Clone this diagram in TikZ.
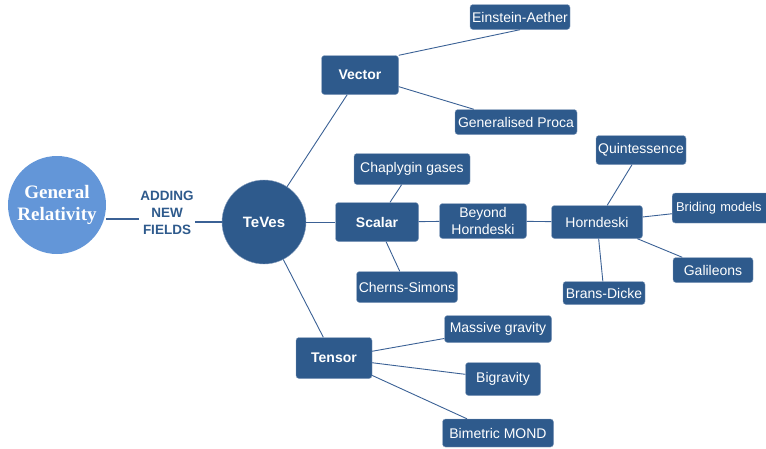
\documentclass[tikz,border=0pt]{standalone}
\usepackage{fontspec}
\setmainfont{Liberation Sans}
\newfontfamily\grfont{Liberation Serif}
\definecolor{boxblue}{HTML}{2E5A8C}
\definecolor{edgeblue}{HTML}{3B6195}
\definecolor{grblue}{HTML}{6396D8}
\tikzset{
  leaf/.style={draw=edgeblue!60, fill=boxblue, rounded corners=3pt, text=white,
    font=\fontsize{14}{16}\selectfont, inner sep=1pt, align=center,
    minimum height=27pt},
  branch/.style={leaf, font=\bfseries\fontsize{14}{16}\selectfont,
    minimum width=77pt, minimum height=39pt},
  link/.style={draw=edgeblue, line width=0.9pt}
}
\begin{document}
\begin{tikzpicture}[x=1pt, y=-1pt]
  \clip (0,0) rectangle (766,448);
  \useasboundingbox (0,0) rectangle (766,448);
  % centre of the map
  \node[circle, fill=grblue, minimum size=98pt, text=white, align=center,
    font=\grfont\bfseries\fontsize{19}{22}\selectfont] (gr) at (57,205) {General\\Relativity};
  \node[text=boxblue, align=center, font=\bfseries\fontsize{13.5}{17}\selectfont,
    inner sep=1pt] (adding) at (167,213) {ADDING\\NEW\\FIELDS};
  \node[circle, fill=boxblue, draw=edgeblue!60, minimum size=84pt, text=white,
    font=\bfseries\fontsize{15}{17}\selectfont] (teves) at (264,222) {TeVes};
  % three branches
  \node[branch] (vector) at (360,75) {Vector};
  \node[branch, minimum width=83pt] (scalar) at (377,222) {Scalar};
  \node[branch, minimum width=76pt, minimum height=41pt] (tensor) at (334,358) {Tensor};
  % vector theories
  \node[leaf, minimum width=100pt, minimum height=25pt] (aether) at (520,17) {Einstein-Aether};
  \node[leaf, minimum width=122pt, minimum height=25pt] (proca) at (516,122) {Generalised Proca};
  % scalar theories
  \node[leaf, minimum width=116pt, minimum height=31pt] (chaplygin) at (412,169) {Chaplygin gases};
  \node[leaf, minimum width=101pt, minimum height=31pt] (simons) at (407,287) {Cherns-Simons};
  \node[leaf, minimum width=87pt, minimum height=35pt, font=\fontsize{14}{17}\selectfont] (beyond) at (483,221) {Beyond\\Horndeski};
  \node[leaf, minimum width=91pt, minimum height=33pt] (horndeski) at (597,222) {Horndeski};
  \node[leaf, minimum width=90pt, minimum height=29pt] (quint) at (641,150) {Quintessence};
  \node[leaf, minimum width=104pt, minimum height=30pt, anchor=west, inner xsep=3pt,
    align=left, text width=96pt, font=\fontsize{12.8}{15}\selectfont] (briding) at (672,208) {Briding models};
  \node[leaf, minimum width=80pt, minimum height=25pt] (galileons) at (713,270) {Galileons};
  \node[leaf, minimum width=82pt, minimum height=23pt] (bransdicke) at (604,293) {Brans-Dicke};
  % tensor theories
  \node[leaf, minimum width=107pt, minimum height=27pt] (massive) at (498,329) {Massive gravity};
  \node[leaf, minimum width=75pt, minimum height=33pt] (bigravity) at (503,379) {Bigravity};
  \node[leaf, minimum width=111pt, minimum height=28pt] (bimetric) at (498,433) {Bimetric MOND};
  % connectors
  \draw[link, line width=2pt] (gr.east |- 0,219) -- (adding.west |- 0,219);
  \draw[link, line width=2pt] (adding.east |- 0,222) -- (teves);
  \draw[link] (vector.north east) -- (aether.south);
  \foreach \a/\b in {teves/vector, teves/scalar, teves/tensor,
      vector/proca, scalar/chaplygin, scalar/simons,
      scalar/beyond, beyond/horndeski, horndeski/quint, horndeski/briding,
      horndeski/galileons, horndeski/bransdicke,
      tensor/massive, tensor/bigravity, tensor/bimetric}
    \draw[link] (\a) -- (\b);
\end{tikzpicture}
\end{document}
